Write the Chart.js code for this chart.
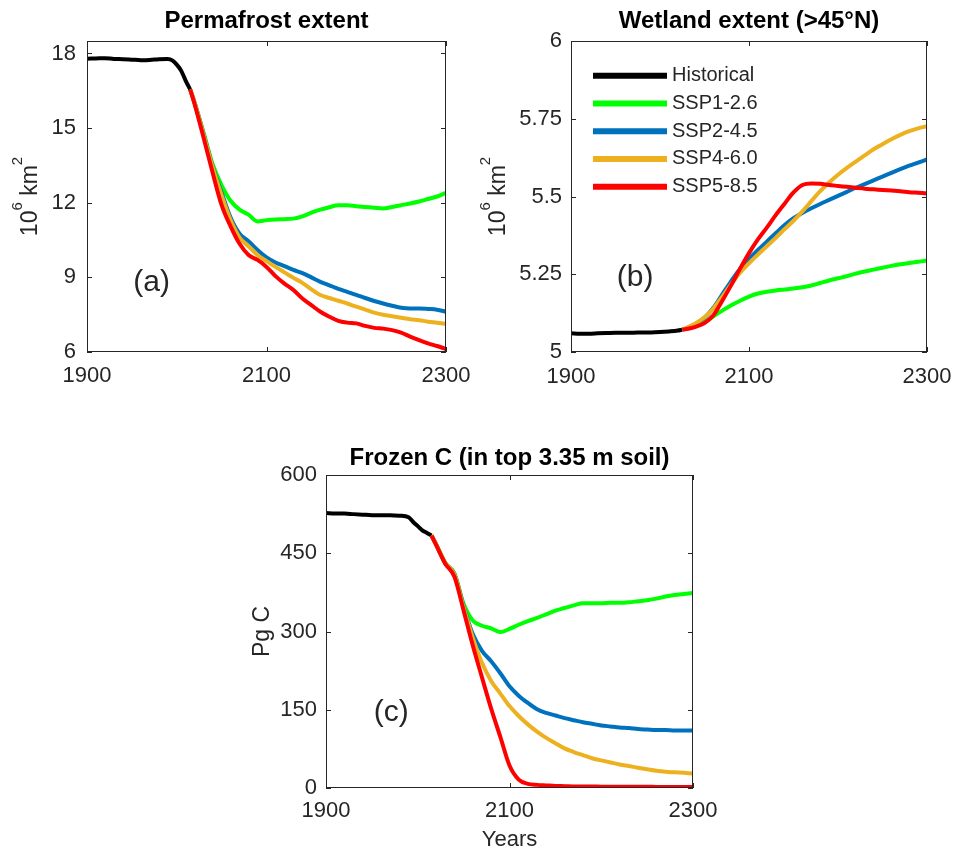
<!DOCTYPE html>
<html>
<head>
<meta charset="utf-8">
<title>Permafrost, wetland and frozen carbon</title>
<script src="https://cdn.jsdelivr.net/npm/chart.js@4.4.1/dist/chart.umd.min.js"></script>
<style>
  body { margin: 0; background: #fff; }
  #page { position: relative; width: 955px; height: 851px; }
  canvas { position: absolute; }
</style>
</head>
<body>
<div id="page">
  <canvas id="permafrost" width="480" height="400" style="left:0;top:0"></canvas>
  <canvas id="wetland" width="475" height="400" style="left:480px;top:0"></canvas>
  <canvas id="frozenC" width="480" height="411" style="left:240px;top:440px"></canvas>
</div>
<script>
const seriesNames = ['Historical', 'SSP1-2.6', 'SSP2-4.5', 'SSP4-6.0', 'SSP5-8.5'];
const seriesColors = ['#000000', '#00ff00', '#0072bd', '#edb120', '#ff0000'];

const xTicks = [1900, 2100, 2300];

// years for panels (a) and (c)
const histYears = [1900, 1910, 1920, 1930, 1940, 1950, 1960, 1970, 1980, 1990, 1995, 2000, 2005, 2010, 2015];
const scenYears = [2015, 2020, 2030, 2040, 2050, 2060, 2070, 2080, 2090, 2100,
  2110, 2120, 2130, 2140, 2150, 2160, 2170, 2180, 2190, 2200,
  2210, 2220, 2230, 2240, 2250, 2260, 2270, 2280, 2290, 2300];

// (a) permafrost extent, 10^6 km2
const permTicks = [6, 9, 12, 15, 18];
const permHist = [17.79, 17.80, 17.81, 17.78, 17.77, 17.75, 17.73, 17.74, 17.77, 17.78, 17.72, 17.55, 17.30, 16.90, 16.55];
const permSsp126 = [16.55, 16.0, 14.8, 13.55, 12.7, 12.08, 11.72, 11.52, 11.25, 11.30,
  11.33, 11.34, 11.36, 11.45, 11.60, 11.72, 11.82, 11.90, 11.90, 11.86,
  11.83, 11.80, 11.77, 11.83, 11.90, 11.97, 12.05, 12.15, 12.25, 12.40];
const permSsp245 = [16.55, 16.0, 14.75, 13.45, 12.4, 11.4, 10.75, 10.45, 10.1, 9.8,
  9.6, 9.45, 9.3, 9.17, 9.0, 8.82, 8.68, 8.54, 8.42, 8.30,
  8.17, 8.05, 7.95, 7.86, 7.78, 7.75, 7.75, 7.73, 7.70, 7.62];
const permSsp460 = [16.55, 16.0, 14.72, 13.42, 12.3, 11.3, 10.6, 10.25, 9.9, 9.65,
  9.42, 9.2, 8.98, 8.78, 8.52, 8.29, 8.17, 8.06, 7.95, 7.82,
  7.70, 7.58, 7.50, 7.44, 7.38, 7.32, 7.28, 7.22, 7.18, 7.13];
const permSsp585 = [16.55, 15.95, 14.6, 13.2, 11.9, 11.05, 10.35, 9.9, 9.7, 9.42,
  9.05, 8.75, 8.49, 8.15, 7.88, 7.62, 7.42, 7.25, 7.18, 7.15,
  7.05, 6.97, 6.94, 6.88, 6.78, 6.62, 6.48, 6.35, 6.24, 6.12];

// (b) wetland extent north of 45N, 10^6 km2
const wetTicks = [5, 5.25, 5.5, 5.75, 6];
const wetHistYears = [1900, 1910, 1920, 1930, 1940, 1950, 1960, 1970, 1980, 1990, 2000, 2010, 2020, 2025];
const wetScenYears = [2025, 2030, 2040, 2050, 2060, 2070, 2080, 2090, 2100,
  2110, 2120, 2130, 2140, 2150, 2160, 2170, 2180, 2190, 2200,
  2210, 2220, 2230, 2240, 2250, 2260, 2270, 2280, 2290, 2300];
const wetHist = [5.060, 5.059, 5.059, 5.060, 5.061, 5.062, 5.062, 5.062, 5.063, 5.063, 5.064, 5.066, 5.069, 5.072];
const wetSsp126 = [5.072, 5.075, 5.083, 5.096, 5.115, 5.133, 5.150, 5.165, 5.178,
  5.188, 5.194, 5.198, 5.201, 5.204, 5.208, 5.214, 5.222, 5.230, 5.237,
  5.244, 5.252, 5.259, 5.265, 5.271, 5.277, 5.282, 5.286, 5.290, 5.294];
const wetSsp245 = [5.072, 5.077, 5.090, 5.110, 5.142, 5.185, 5.228, 5.268, 5.300,
  5.328, 5.355, 5.382, 5.408, 5.430, 5.447, 5.462, 5.476, 5.489, 5.502,
  5.515, 5.528, 5.540, 5.552, 5.564, 5.576, 5.588, 5.599, 5.609, 5.619];
const wetSsp460 = [5.072, 5.078, 5.092, 5.112, 5.140, 5.178, 5.218, 5.255, 5.285,
  5.313, 5.340, 5.367, 5.395, 5.422, 5.452, 5.485, 5.517, 5.545, 5.570,
  5.592, 5.612, 5.632, 5.652, 5.668, 5.684, 5.698, 5.710, 5.719, 5.726];
const wetSsp585 = [5.072, 5.074, 5.081, 5.093, 5.118, 5.165, 5.215, 5.268, 5.318,
  5.362, 5.400, 5.440, 5.477, 5.513, 5.537, 5.542, 5.541, 5.537, 5.534,
  5.531, 5.528, 5.525, 5.523, 5.521, 5.519, 5.517, 5.514, 5.512, 5.510];

// (c) frozen carbon in top 3.35 m soil, Pg C
const carbTicks = [0, 150, 300, 450, 600];
const carbHist = [527, 526, 526, 525, 524, 523, 523, 523, 522, 519, 510, 502, 494, 489, 484];
const carbSsp126 = [484, 467, 431, 411, 353, 321, 311, 306, 299, 305,
  313, 320, 326, 333, 340, 345, 350, 354, 354, 354,
  355, 355, 356, 358, 360, 363, 367, 370, 372, 374];
const carbSsp245 = [484, 467, 431, 410, 348, 295, 263, 243, 220, 195,
  177, 163, 151, 144, 139, 134, 130, 126, 123, 120,
  118, 116, 115, 113, 112, 111, 111, 110, 110, 110];
const carbSsp460 = [484, 467, 431, 409, 346, 288, 240, 205, 181, 157,
  138, 122, 108, 96, 86, 76, 69, 63, 57, 53,
  49, 45, 42, 39, 36, 33, 31, 30, 29, 28];
const carbSsp585 = [484, 466, 430, 405, 340, 273, 212, 152, 98, 43,
  16, 8, 6, 5, 4, 3.5, 3, 3, 3, 2.5,
  2.5, 2.5, 2.5, 2.5, 2.5, 2, 2, 2, 2, 2];

const axisColor = '#262626';
const family = '"Liberation Sans", Arial, sans-serif';
Chart.defaults.font.family = family;

// box, inward ticks, title, panel letter, y title and legend
const panelDeco = {
  id: 'panelDeco',
  afterDraw(chart, args, opts) {
    const { ctx, chartArea: a, scales } = chart;
    const tickLen = 5;
    ctx.save();

    ctx.strokeStyle = axisColor;
    ctx.lineWidth = 1;
    ctx.strokeRect(a.left + 0.5, a.top + 0.5, a.right - a.left - 1, a.bottom - a.top - 1);
    ctx.beginPath();
    scales.y.ticks.forEach(t => {
      const py = Math.round(scales.y.getPixelForValue(t.value)) + 0.5;
      ctx.moveTo(a.left, py); ctx.lineTo(a.left + tickLen, py);
      ctx.moveTo(a.right, py); ctx.lineTo(a.right - tickLen, py);
    });
    scales.x.ticks.forEach(t => {
      const px = Math.round(scales.x.getPixelForValue(t.value)) + 0.5;
      ctx.moveTo(px, a.bottom); ctx.lineTo(px, a.bottom - tickLen);
      ctx.moveTo(px, a.top); ctx.lineTo(px, a.top + tickLen);
    });
    ctx.stroke();

    ctx.fillStyle = '#000';
    ctx.font = 'bold 24px ' + family;
    ctx.textAlign = 'center';
    ctx.textBaseline = 'alphabetic';
    ctx.fillText(opts.title, (a.left + a.right) / 2, a.top - opts.titleGap);

    ctx.fillStyle = axisColor;
    ctx.font = '30px ' + family;
    ctx.textBaseline = 'middle';
    ctx.fillText(opts.tag, scales.x.getPixelForValue(opts.tagAt[0]), scales.y.getPixelForValue(opts.tagAt[1]));

    if (opts.legend) {
      chart.data.datasets.forEach((ds, i) => {
        const ly = a.top + 34.7 + i * 27.75;
        ctx.strokeStyle = ds.borderColor;
        ctx.lineWidth = 6;
        ctx.beginPath();
        ctx.moveTo(a.left + 22, ly);
        ctx.lineTo(a.left + 96, ly);
        ctx.stroke();
        ctx.fillStyle = axisColor;
        ctx.font = '20px ' + family;
        ctx.textAlign = 'left';
        ctx.fillText(ds.label, a.left + 101, ly);
      });
    }

    // rotated y title, with raised superscripts
    const big = '23px ' + family, small = '15px ' + family;
    let total = 0;
    opts.yTitle.forEach(([s, sup]) => { ctx.font = sup ? small : big; total += ctx.measureText(s).width; });
    ctx.translate(opts.yTitleX, (a.top + a.bottom) / 2);
    ctx.rotate(-Math.PI / 2);
    ctx.textAlign = 'left';
    ctx.textBaseline = 'alphabetic';
    ctx.fillStyle = axisColor;
    let cx = -total / 2;
    opts.yTitle.forEach(([s, sup]) => {
      ctx.font = sup ? small : big;
      ctx.fillText(s, cx, sup ? -15 : 0);
      cx += ctx.measureText(s).width;
    });
    ctx.restore();
  }
};

function pts(years, vals) {
  return years.map((yr, i) => ({ x: yr, y: vals[i] }));
}

function panel(canvasId, p) {
  const lines = [pts(p.histYears, p.hist)].concat(p.scen.map(v => pts(p.scenYears, v)));
  const datasets = lines.map((data, i) => ({
    label: seriesNames[i],
    data,
    borderColor: seriesColors[i],
    borderWidth: 4,
    pointRadius: 0,
    cubicInterpolationMode: 'monotone',
    order: seriesNames.length - i,
  }));
  const tickFont = { family, size: 22 };

  return new Chart(document.getElementById(canvasId), {
    type: 'line',
    data: { datasets },
    options: {
      responsive: false,
      animation: false,
      events: [],
      layout: { padding: p.padding },
      plugins: {
        legend: { display: false },
        tooltip: { enabled: false },
        panelDeco: p.deco,
      },
      scales: {
        x: {
          type: 'linear',
          min: 1900,
          max: 2300,
          grid: { display: false, drawTicks: false },
          border: { display: false },
          ticks: { color: axisColor, font: tickFont, padding: p.xPad, maxRotation: 0, callback: v => String(v) },
          afterBuildTicks: s => { s.ticks = xTicks.map(v => ({ value: v })); },
          afterFit: s => { s.height = p.xHeight; s.paddingLeft = 0; s.paddingRight = 0; },
          title: p.xTitle
            ? { display: true, text: p.xTitle, color: axisColor, font: { family, size: 22, lineHeight: 1 }, padding: 0 }
            : { display: false },
        },
        y: {
          type: 'linear',
          min: p.yMin,
          max: p.yMax,
          grid: { display: false, drawTicks: false },
          border: { display: false },
          ticks: { color: axisColor, font: tickFont, padding: p.yPad, callback: v => String(v) },
          afterBuildTicks: s => { s.ticks = p.yTicks.map(v => ({ value: v })); },
          afterFit: s => { s.width = p.yWidth; s.paddingTop = 0; s.paddingBottom = 0; },
        },
      },
    },
    plugins: [panelDeco],
  });
}

const km2 = [['10', false], ['6', true], [' km', false], ['2', true]];

panel('permafrost', {
  histYears, hist: permHist, scenYears,
  scen: [permSsp126, permSsp245, permSsp460, permSsp585],
  yMin: 6, yMax: 18.5, yTicks: permTicks,
  padding: { left: 0, top: 41, right: 34, bottom: 8 },
  yWidth: 87, xHeight: 40, xPad: 11, yPad: 11,
  deco: { title: 'Permafrost extent', titleGap: 13, tag: '(a)', tagAt: [1972, 8.8], yTitle: km2, yTitleX: 37 },
});

panel('wetland', {
  histYears: wetHistYears, hist: wetHist, scenYears: wetScenYears,
  scen: [wetSsp126, wetSsp245, wetSsp460, wetSsp585],
  yMin: 5, yMax: 6, yTicks: wetTicks,
  padding: { left: 0, top: 41, right: 28, bottom: 8 },
  yWidth: 91, xHeight: 40, xPad: 12, yPad: 9,
  deco: { title: 'Wetland extent (>45°N)', titleGap: 13, tag: '(b)', tagAt: [1972, 5.238], yTitle: km2, yTitleX: 25, legend: true },
});

panel('frozenC', {
  histYears, hist: carbHist, scenYears,
  scen: [carbSsp126, carbSsp245, carbSsp460, carbSsp585],
  yMin: 0, yMax: 600, yTicks: carbTicks,
  padding: { left: 0, top: 35, right: 27, bottom: 0 },
  yWidth: 86, xHeight: 63, xPad: 10, yPad: 9, xTitle: 'Years',
  deco: { title: 'Frozen C (in top 3.35 m soil)', titleGap: 10, tag: '(c)', tagAt: [1971, 144], yTitle: [['Pg C', false]], yTitleX: 29 },
});
</script>
</body>
</html>
